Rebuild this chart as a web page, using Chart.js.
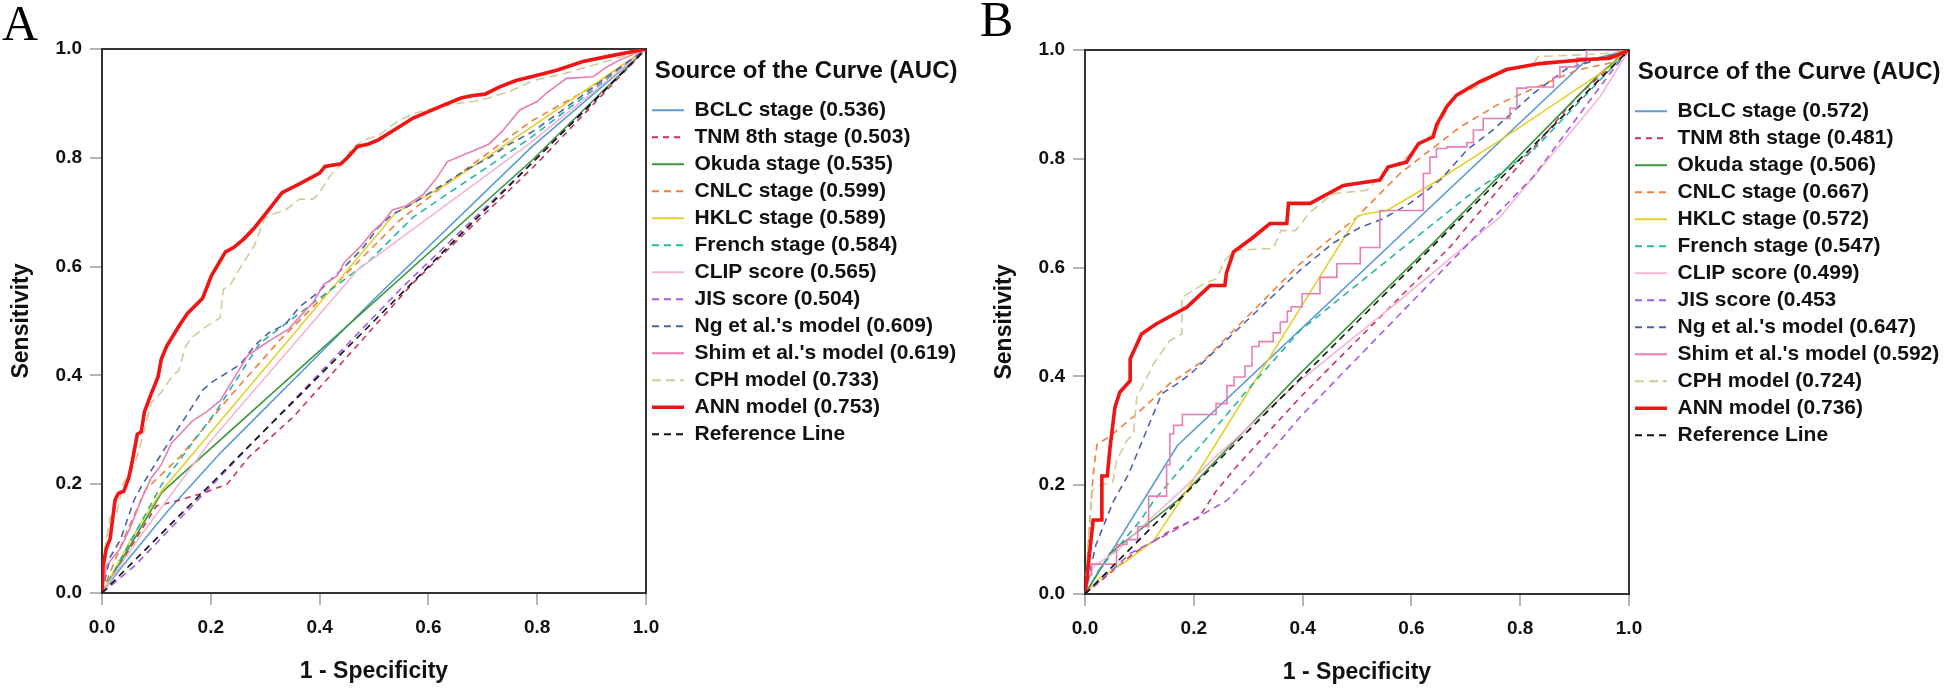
<!DOCTYPE html>
<html>
<head>
<meta charset="utf-8">
<script src="https://cdn.jsdelivr.net/npm/chart.js@4.4.1/dist/chart.umd.min.js"></script>
<style>
    html, body { margin: 0; padding: 0; background: #fff; width: 1946px; height: 688px; overflow: hidden; }
    .panel { position: absolute; top: 0; width: 1000px; height: 688px; }
    .letter { position: absolute; font-family: "Liberation Serif", "Times New Roman", serif; font-size: 50px; line-height: 50px; color: #000; }
</style>
</head>
<body>
<div class="panel" style="left:0px"><canvas id="chartA" width="1000" height="688"></canvas></div>
<div class="panel" style="left:983px; top:1px"><canvas id="chartB" width="1000" height="688"></canvas></div>
<div class="letter" style="left:2px; top:-2px">A</div>
<div class="letter" style="left:980px; top:-6px">B</div>
<script>
// legend texts
const legendA = [
    "BCLC stage (0.536)", "TNM 8th stage (0.503)", "Okuda stage (0.535)", "CNLC stage (0.599)",
    "HKLC stage (0.589)", "French stage (0.584)", "CLIP score (0.565)", "JIS score (0.504)",
    "Ng et al.'s model (0.609)", "Shim et al.'s model (0.619)", "CPH model (0.733)",
    "ANN model (0.753)", "Reference Line"
];
const legendB = [
    "BCLC stage (0.572)", "TNM 8th stage (0.481)", "Okuda stage (0.506)", "CNLC stage (0.667)",
    "HKLC stage (0.572)", "French stage (0.547)", "CLIP score (0.499)", "JIS score (0.453",
    "Ng et al.'s model (0.647)", "Shim et al.'s model (0.592)", "CPH model (0.724)",
    "ANN model (0.736)", "Reference Line"
];

// panel A curves, [1 - specificity, sensitivity]
const bclcA = [[0, 0], [0.03, 0.04], [0.12, 0.15], [0.22, 0.26], [0.5, 0.54], [0.79, 0.82], [1, 1]];
const tnmA = [[0, 0], [0.1, 0.16], [0.14, 0.17], [0.19, 0.185], [0.23, 0.2], [0.27, 0.25], [0.352, 0.324], [0.572, 0.57], [0.8, 0.79], [1, 1]];
const okudaA = [[0, 0], [0.11, 0.185], [0.79, 0.795], [1, 1]];
const cnlcA = [[0, 0], [0.04, 0.1], [0.08, 0.19], [0.143, 0.25], [0.235, 0.361], [0.327, 0.465], [0.419, 0.557], [0.548, 0.686], [0.634, 0.753], [0.787, 0.866], [0.9, 0.93], [1, 1]];
const hklcA = [[0, 0], [0.053, 0.098], [0.109, 0.187], [0.539, 0.698], [0.635, 0.752], [0.787, 0.855], [1, 1]];
const frenchA = [[0, 0], [0.05, 0.09], [0.11, 0.2], [0.211, 0.336], [0.29, 0.459], [0.327, 0.487], [0.493, 0.612], [0.572, 0.691], [0.787, 0.836], [1, 1]];
const clipA = [[0, 0], [0.06, 0.09], [0.2, 0.28], [0.47, 0.594], [0.787, 0.827], [1, 1]];
const jisA = [[0, 0], [0.06, 0.05], [0.3, 0.3], [0.55, 0.56], [0.8, 0.8], [1, 1]];
const ngA = [[0, 0], [0.015, 0.066], [0.034, 0.098], [0.059, 0.171], [0.072, 0.195], [0.097, 0.236], [0.122, 0.276], [0.154, 0.324], [0.185, 0.373], [0.204, 0.389], [0.23, 0.405], [0.255, 0.421], [0.28, 0.454], [0.306, 0.478], [0.337, 0.494], [0.363, 0.526], [0.394, 0.55], [0.42, 0.575], [0.445, 0.599], [0.477, 0.631], [0.508, 0.672], [0.534, 0.696], [0.565, 0.712], [0.603, 0.736], [0.635, 0.756], [0.666, 0.776], [0.711, 0.8], [0.749, 0.825], [0.793, 0.849], [0.85, 0.89], [0.93, 0.95], [1, 1]];
const shimA = [[0, 0], [0.008, 0.05], [0.021, 0.066], [0.034, 0.082], [0.053, 0.123], [0.072, 0.171], [0.09, 0.211], [0.109, 0.236], [0.128, 0.276], [0.147, 0.296], [0.166, 0.316], [0.192, 0.333], [0.217, 0.353], [0.249, 0.405], [0.268, 0.437], [0.293, 0.454], [0.318, 0.47], [0.344, 0.486], [0.369, 0.514], [0.388, 0.534], [0.407, 0.567], [0.432, 0.583], [0.445, 0.607], [0.477, 0.639], [0.496, 0.663], [0.515, 0.68], [0.534, 0.704], [0.559, 0.712], [0.59, 0.732], [0.616, 0.764], [0.635, 0.793], [0.673, 0.809], [0.711, 0.825], [0.736, 0.849], [0.768, 0.888], [0.799, 0.903], [0.817, 0.919], [0.854, 0.946], [0.903, 0.949], [0.928, 0.967], [0.952, 0.98], [1, 1]];
const cphA = [[0, 0], [0.005, 0.08], [0.015, 0.139], [0.027, 0.147], [0.04, 0.203], [0.053, 0.22], [0.065, 0.252], [0.078, 0.3], [0.09, 0.349], [0.109, 0.369], [0.128, 0.397], [0.141, 0.409], [0.154, 0.454], [0.166, 0.47], [0.192, 0.49], [0.217, 0.506], [0.223, 0.558], [0.236, 0.567], [0.255, 0.599], [0.28, 0.639], [0.299, 0.688], [0.312, 0.696], [0.337, 0.704], [0.363, 0.724], [0.388, 0.724], [0.4, 0.736], [0.42, 0.768], [0.445, 0.793], [0.458, 0.817], [0.483, 0.833], [0.508, 0.841], [0.54, 0.865], [0.572, 0.881], [0.616, 0.893], [0.654, 0.9], [0.685, 0.904], [0.711, 0.91], [0.749, 0.922], [0.793, 0.942], [0.85, 0.955], [0.93, 0.978], [1, 1]];
const annA = [[0, 0], [0.002, 0.05], [0.008, 0.082], [0.015, 0.1], [0.024, 0.171], [0.03, 0.183], [0.04, 0.187], [0.049, 0.211], [0.056, 0.244], [0.065, 0.292], [0.072, 0.296], [0.078, 0.333], [0.09, 0.365], [0.103, 0.397], [0.109, 0.43], [0.119, 0.454], [0.141, 0.49], [0.157, 0.514], [0.185, 0.542], [0.201, 0.583], [0.227, 0.627], [0.242, 0.635], [0.261, 0.651], [0.28, 0.671], [0.306, 0.704], [0.331, 0.736], [0.363, 0.752], [0.4, 0.772], [0.41, 0.784], [0.439, 0.789], [0.451, 0.8], [0.47, 0.821], [0.489, 0.825], [0.508, 0.833], [0.54, 0.853], [0.572, 0.873], [0.6, 0.885], [0.628, 0.897], [0.66, 0.91], [0.679, 0.914], [0.704, 0.917], [0.73, 0.93], [0.761, 0.942], [0.793, 0.95], [0.836, 0.961], [0.884, 0.977], [0.928, 0.986], [1, 1]];
const refA = [[0, 0], [1, 1]];

// panel B curves
const bclcB = [[0, 0], [0.17, 0.273], [0.92, 0.98], [1, 1]];
const tnmB = [[0, 0], [0.09, 0.075], [0.163, 0.12], [0.209, 0.14], [0.241, 0.189], [0.281, 0.237], [0.395, 0.361], [0.671, 0.638], [0.904, 0.914], [1, 1]];
const okudaB = [[0, 0], [0.046, 0.075], [0.169, 0.171], [0.395, 0.405], [0.64, 0.645], [0.947, 0.957], [1, 1]];
const cnlcB = [[0, 0], [0.008, 0.12], [0.015, 0.22], [0.022, 0.275], [0.046, 0.29], [0.095, 0.331], [0.156, 0.387], [0.218, 0.429], [0.395, 0.607], [0.5, 0.693], [0.579, 0.773], [0.689, 0.858], [0.763, 0.902], [0.824, 0.929], [0.904, 0.963], [0.965, 0.976], [1, 1]];
const hklcB = [[0, 0], [0.028, 0.03], [0.077, 0.061], [0.126, 0.098], [0.15, 0.134], [0.175, 0.171], [0.5, 0.693], [0.511, 0.698], [0.555, 0.705], [0.64, 0.755], [0.763, 0.834], [0.965, 0.969], [1, 1]];
const frenchB = [[0, 0], [0.028, 0.048], [0.101, 0.134], [0.126, 0.171], [0.303, 0.38], [0.395, 0.484], [0.579, 0.632], [0.702, 0.73], [0.824, 0.816], [0.947, 0.945], [1, 1]];
const clipB = [[0, 0], [0.015, 0.05], [0.06, 0.08], [0.1, 0.12], [0.176, 0.189], [0.241, 0.253], [0.395, 0.392], [0.579, 0.54], [0.763, 0.693], [0.947, 0.914], [1, 1]];
const jisB = [[0, 0], [0.084, 0.075], [0.163, 0.116], [0.261, 0.172], [0.307, 0.221], [0.395, 0.325], [0.824, 0.767], [0.965, 0.957], [1, 1]];
const ngB = [[0, 0], [0.02, 0.09], [0.052, 0.17], [0.08, 0.22], [0.113, 0.3], [0.141, 0.368], [0.175, 0.39], [0.2, 0.41], [0.395, 0.595], [0.456, 0.645], [0.506, 0.674], [0.548, 0.69], [0.597, 0.718], [0.653, 0.761], [0.702, 0.816], [0.75, 0.853], [0.824, 0.92], [0.886, 0.966], [0.935, 0.98], [1, 1]];
const shimB = [[0, 0], [0.002, 0.035], [0.012, 0.035], [0.015, 0.055], [0.058, 0.055], [0.077, 0.091], [0.097, 0.1], [0.117, 0.124], [0.123, 0.18], [0.15, 0.18], [0.156, 0.237], [0.163, 0.294], [0.179, 0.31], [0.192, 0.33], [0.241, 0.33], [0.261, 0.35], [0.274, 0.383], [0.294, 0.399], [0.307, 0.419], [0.32, 0.455], [0.346, 0.464], [0.359, 0.48], [0.372, 0.5], [0.379, 0.52], [0.399, 0.528], [0.432, 0.552], [0.463, 0.582], [0.506, 0.607], [0.542, 0.637], [0.57, 0.705], [0.622, 0.705], [0.634, 0.773], [0.646, 0.803], [0.665, 0.819], [0.702, 0.822], [0.714, 0.83], [0.732, 0.853], [0.75, 0.874], [0.781, 0.874], [0.794, 0.893], [0.812, 0.93], [0.861, 0.932], [0.873, 0.95], [0.904, 0.969], [0.922, 0.985], [1, 1]];
const cphB = [[0, 0], [0.005, 0.083], [0.009, 0.124], [0.012, 0.189], [0.022, 0.197], [0.031, 0.201], [0.051, 0.205], [0.058, 0.245], [0.077, 0.282], [0.089, 0.294], [0.095, 0.361], [0.126, 0.423], [0.156, 0.466], [0.178, 0.478], [0.178, 0.545], [0.218, 0.57], [0.242, 0.58], [0.257, 0.613], [0.276, 0.632], [0.346, 0.635], [0.36, 0.668], [0.387, 0.668], [0.414, 0.702], [0.456, 0.736], [0.518, 0.742], [0.548, 0.773], [0.591, 0.803], [0.646, 0.853], [0.677, 0.912], [0.726, 0.935], [0.769, 0.963], [0.824, 0.975], [0.833, 0.988], [0.883, 0.99], [0.965, 0.994], [1, 1]];
const annB = [[0, 0], [0.005, 0.043], [0.015, 0.136], [0.031, 0.136], [0.031, 0.217], [0.041, 0.217], [0.046, 0.269], [0.051, 0.31], [0.055, 0.343], [0.064, 0.371], [0.083, 0.392], [0.083, 0.432], [0.104, 0.478], [0.13, 0.496], [0.187, 0.527], [0.215, 0.553], [0.23, 0.567], [0.257, 0.567], [0.26, 0.59], [0.273, 0.629], [0.307, 0.654], [0.34, 0.681], [0.371, 0.681], [0.374, 0.718], [0.414, 0.718], [0.475, 0.751], [0.542, 0.761], [0.557, 0.785], [0.591, 0.794], [0.613, 0.828], [0.64, 0.84], [0.646, 0.862], [0.665, 0.896], [0.683, 0.917], [0.726, 0.942], [0.775, 0.964], [0.836, 0.975], [0.916, 0.982], [0.965, 0.985], [1, 1]];
const refB = [[0, 0], [1, 1]];

const curvesA = [bclcA, tnmA, okudaA, cnlcA, hklcA, frenchA, clipA, jisA, ngA, shimA, cphA, annA, refA];
const curvesB = [bclcB, tnmB, okudaB, cnlcB, hklcB, frenchB, clipB, jisB, ngB, shimB, cphB, annB, refB];

let colors = [
    "#5B9BD5", "#C8325A", "#3C963C", "#F07F3C", "#E4D02C", "#26B6A6", "#F5B6D6",
    "#A45BE0", "#4A63AB", "#E87DB5", "#CFCB9B", "#F01414", "#111111"
];
let dashes = [[], [6, 5], [], [7, 5], [], [7, 5], [], [7, 5], [7, 5], [], [9, 5], [], [7, 5]];
let widths = [1.6, 1.6, 1.6, 1.6, 1.6, 1.6, 1.6, 1.6, 1.6, 1.6, 1.6, 3.6, 1.6];

Chart.defaults.font.family = "'Liberation Sans', Arial, Helvetica, sans-serif";
Chart.defaults.color = "#111";

const PLOT_LEFT = 102;
const PLOT_RIGHT = 646;

const frame = {
    id: "frame",
    beforeDatasetsDraw(chart) {
        let a = chart.chartArea;
        let c = chart.ctx;
        c.save();
        c.strokeStyle = "#333";
        c.lineWidth = 2;
        c.strokeRect(a.left, a.top, a.right - a.left, a.bottom - a.top);
        c.restore();
    }
};

function legendItems(chart) {
    return chart.data.datasets.map((ds, i) => ({
        text: ds.label,
        fillStyle: ds.borderColor,
        strokeStyle: ds.borderColor,
        lineWidth: ds.borderWidth > 2 ? 3.6 : 2,
        lineDash: ds.borderDash,
        pointStyle: "line",
        fontColor: "#111",
        hidden: false,
        datasetIndex: i
    }));
}

function buildDatasets(curves, labels, steppedIndex) {
    let datasets = [];
    for (let i = 0; i < curves.length; i++) {
        datasets.push({
            label: labels[i],
            data: curves[i].map((p) => ({ x: p[0], y: p[1] })),
            borderColor: colors[i],
            backgroundColor: colors[i],
            borderWidth: widths[i],
            borderDash: dashes[i],
            pointRadius: 0,
            tension: 0,
            fill: false,
            stepped: i === steppedIndex ? "after" : false,
            order: curves.length - i
        });
    }
    return datasets;
}

function makeChart(canvasId, curves, labels, steppedIndex) {
    let ctx = document.getElementById(canvasId).getContext("2d");
    let chart = new Chart(ctx, {
        type: "line",
        data: { datasets: buildDatasets(curves, labels, steppedIndex) },
        options: {
            responsive: false,
            animation: false,
            events: [],
            layout: { padding: { top: 49, right: 0, bottom: 0, left: 0 } },
            plugins: {
                legend: {
                    position: "right",
                    align: "start",
                    maxWidth: 500,
                    title: {
                        display: true,
                        text: "Source of the Curve (AUC)",
                        color: "#111",
                        position: "center",
                        font: { size: 24, weight: "bold" },
                        padding: { top: 10, bottom: 6 }
                    },
                    labels: {
                        usePointStyle: true,
                        pointStyleWidth: 32,
                        padding: 6,
                        color: "#111",
                        font: { size: 21, weight: "bold" },
                        generateLabels: legendItems
                    }
                },
                tooltip: { enabled: false }
            },
            scales: {
                x: {
                    type: "linear",
                    min: 0,
                    max: 1,
                    ticks: {
                        stepSize: 0.2,
                        padding: 11,
                        maxRotation: 0,
                        color: "#111",
                        font: { size: 19, weight: "bold" },
                        callback: (v) => v.toFixed(1)
                    },
                    grid: { drawOnChartArea: false, tickLength: 12, color: "#b4b4b4", lineWidth: 2 },
                    border: { color: "#333", width: 2 },
                    title: {
                        display: true,
                        text: "1 - Specificity",
                        color: "#111",
                        font: { size: 23, weight: "bold" },
                        padding: { top: 0, bottom: 3 }
                    },
                    afterFit: (s) => { s.height = 95; }
                },
                y: {
                    type: "linear",
                    min: 0,
                    max: 1,
                    ticks: {
                        stepSize: 0.2,
                        padding: 8,
                        color: "#111",
                        font: { size: 19, weight: "bold" },
                        callback: (v) => v.toFixed(1)
                    },
                    grid: { drawOnChartArea: false, tickLength: 12, color: "#b4b4b4", lineWidth: 2 },
                    border: { color: "#333", width: 2 },
                    title: {
                        display: true,
                        text: "Sensitivity",
                        color: "#111",
                        font: { size: 23, weight: "bold" },
                        padding: { top: 8, bottom: 0 }
                    },
                    afterFit: (s) => { s.width = PLOT_LEFT; }
                }
            }
        },
        plugins: [frame]
    });

    // trim the right side so the plot box ends where the legend begins
    let canvasWidth = chart.width;
    chart.options.layout.padding.right = Math.max(0, canvasWidth - PLOT_RIGHT - chart.legend.width);
    chart.update();
    return chart;
}

makeChart("chartA", curvesA, legendA, -1);
makeChart("chartB", curvesB, legendB, 9);
</script>
</body>
</html>
